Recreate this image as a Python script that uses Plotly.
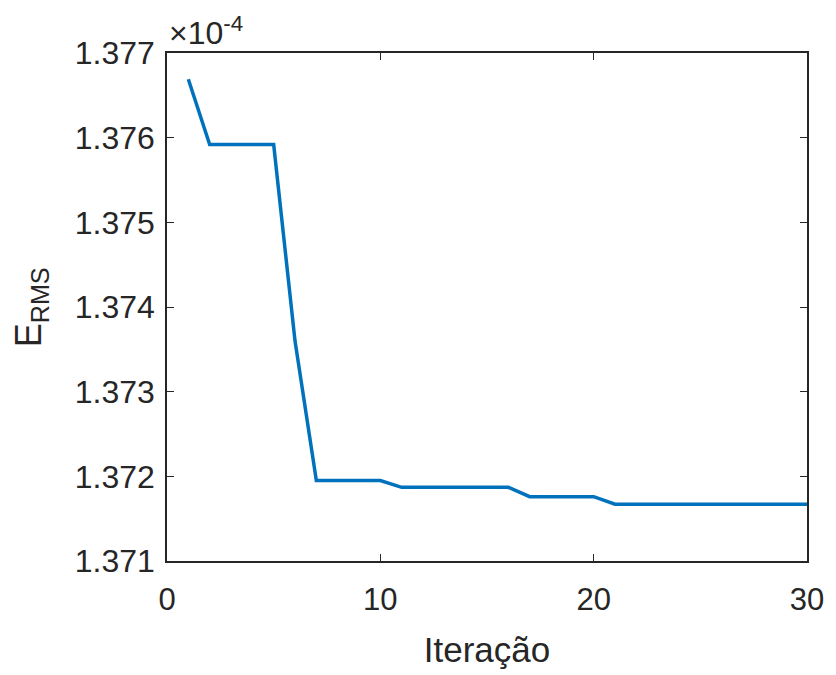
import plotly.graph_objects as go

# Iteration number
iteracao = list(range(1, 31))
# E_RMS values in units of 1e-4
erms = [1.37669, 1.37592, 1.37592, 1.37592, 1.37592, 1.37360, 1.37195, 1.37195,
        1.37195, 1.37195, 1.37187, 1.37187, 1.37187, 1.37187, 1.37187, 1.37187,
        1.37176, 1.37176, 1.37176, 1.37176, 1.37167, 1.37167, 1.37167, 1.37167,
        1.37167, 1.37167, 1.37167, 1.37167, 1.37167, 1.37167]
y_ticks = [1.371, 1.372, 1.373, 1.374, 1.375, 1.376, 1.377]
x_ticks = [0, 10, 20, 30]

FONT = "Liberation Sans, Arial, sans-serif"
AX = "#262626"

fig = go.Figure()
fig.add_trace(go.Scatter(x=iteracao, y=erms, mode="lines",
                         line=dict(color="#0072BD", width=3.5), showlegend=False))

fig.update_layout(
    width=836, height=675,
    margin=dict(l=167, r=23, t=53, b=107),
    paper_bgcolor="white", plot_bgcolor="white",
    font=dict(family=FONT, color=AX),
    xaxis=dict(range=[0, 30], tickvals=x_ticks, ticktext=[str(v) for v in x_ticks],
               showgrid=False, zeroline=False, showline=True, linecolor=AX, linewidth=1.5,
               mirror="ticks", ticks="inside", ticklen=7, tickwidth=1.2, tickcolor=AX,
               ticklabelstandoff=10,
               tickfont=dict(size=31, family=FONT, color=AX),
               title=dict(text="Iteração", font=dict(size=35, family=FONT, color=AX), standoff=22)),
    yaxis=dict(range=[1.371, 1.377], tickvals=y_ticks, ticktext=[f"{v:.3f}" for v in y_ticks],
               showgrid=False, zeroline=False, showline=True, linecolor=AX, linewidth=1.5,
               mirror="ticks", ticks="inside", ticklen=7, tickwidth=1.2, tickcolor=AX,
               ticklabelstandoff=4,
               tickfont=dict(size=32, family=FONT, color=AX)),
)

fig.add_annotation(text="E<sub>RMS</sub>", xref="paper", yref="paper",
                   x=-0.212, y=0.5, xanchor="center", yanchor="middle",
                   textangle=-90, showarrow=False,
                   font=dict(size=36, family=FONT, color=AX))
fig.add_annotation(text="×10<sup>-4</sup>", xref="paper", yref="paper",
                   x=0, y=1, xanchor="left", yanchor="bottom", yshift=0,
                   showarrow=False, font=dict(size=32, family=FONT, color=AX))

fig.write_html("out.html")
